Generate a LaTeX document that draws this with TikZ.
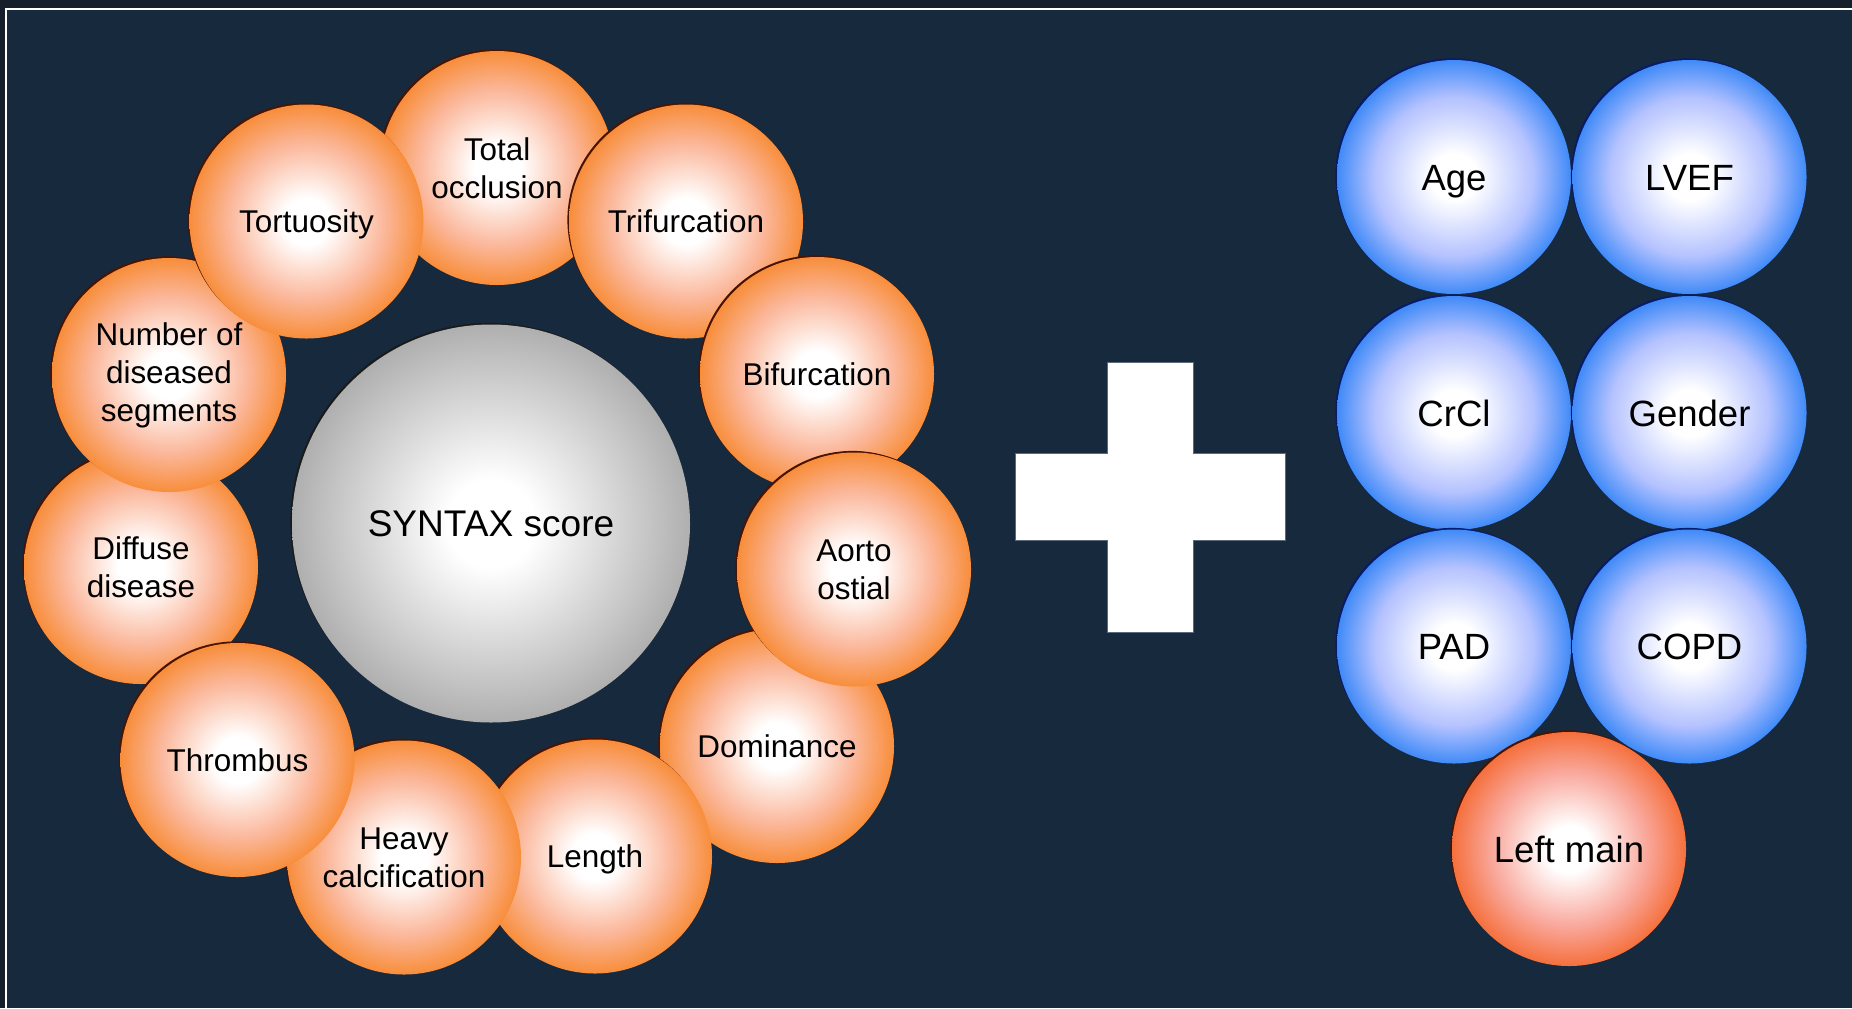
\documentclass[tikz,border=0pt]{standalone}
\usepackage{fontspec}
\setmainfont{Liberation Sans}
\usetikzlibrary{shadows}
\definecolor{outerbg}{HTML}{151F2C}
\definecolor{innerbg}{HTML}{17293D}
\definecolor{orangeedge}{HTML}{F7862A}
\definecolor{orangemid}{HTML}{FBB89C}
\definecolor{redorange}{HTML}{F4662C}
\definecolor{redmid}{HTML}{F9A89C}
\definecolor{blueedge}{HTML}{2B80F6}
\definecolor{bluemid}{HTML}{B4C2FF}
\definecolor{grayedge}{HTML}{898989}
\definecolor{graymid}{HTML}{C4C4C4}
\definecolor{oshadow}{HTML}{4A1200}
\definecolor{bshadow}{HTML}{061A6E}
\definecolor{gshadow}{HTML}{1A1A1A}
\definecolor{plusline}{HTML}{5A6A7A}
% the circle edge lies at about 35bp of the shading
\pgfdeclareradialshading{orangeball}{\pgfpoint{0bp}{0bp}}{color(0bp)=(white); color(5bp)=(white); color(16.5bp)=(orangemid); color(26.5bp)=(orangeedge); color(50bp)=(orangeedge)}
\pgfdeclareradialshading{redball}{\pgfpoint{0bp}{0bp}}{color(0bp)=(white); color(5bp)=(white); color(16.5bp)=(redmid); color(26.5bp)=(redorange); color(50bp)=(redorange)}
\pgfdeclareradialshading{blueball}{\pgfpoint{0bp}{0bp}}{color(0bp)=(white); color(5bp)=(white); color(17bp)=(bluemid); color(26.5bp)=(blueedge); color(50bp)=(blueedge)}
\pgfdeclareradialshading{grayball}{\pgfpoint{0bp}{0bp}}{color(0bp)=(white); color(5.5bp)=(white); color(20bp)=(graymid); color(34bp)=(grayedge); color(50bp)=(grayedge)}
\tikzset{
  ball/.style={circle, inner sep=0pt, minimum size=175.5pt, align=center, text=black},
  oball/.style={ball, shading=orangeball,
     general shadow={fill=oshadow, shadow xshift=-1.2pt, shadow yshift=1.2pt},
     font=\fontsize{23.6}{28.5}\selectfont},
  oline/.style={oball, text height=16.9pt, text depth=0pt},
  rball/.style={ball, shading=redball, text height=19.6pt, text depth=0pt,
     general shadow={fill=oshadow, shadow xshift=-1.2pt, shadow yshift=1.2pt},
     font=\fontsize{27.4}{32}\selectfont},
  bball/.style={ball, shading=blueball, text height=19.6pt, text depth=0pt,
     general shadow={fill=bshadow, shadow xshift=-1.2pt, shadow yshift=1.2pt},
     font=\fontsize{27.4}{32}\selectfont},
  gball/.style={ball, minimum size=298.5pt, shading=grayball, text height=19.9pt, text depth=0pt,
     general shadow={fill=gshadow, shadow xshift=-1.2pt, shadow yshift=1.2pt},
     font=\fontsize{27.8}{32}\selectfont},
}
\begin{document}
\begin{tikzpicture}[x=0.75pt, y=-0.75pt]
\useasboundingbox (0,0) rectangle (1852,1008);
% background and frame
\fill[outerbg] (0,0) rectangle (1852,1008);
\fill[innerbg] (6,9) rectangle (1852,1008);
\draw[white, line width=1.5pt] (6,1008) -- (6,9) -- (1852,9);
% orange ring (drawn in stacking order)
\node[oball] (total) at (497,168) {Total\\occlusion};
\node[oball] (diffuse) at (141,567) {Diffuse\\disease};
\node[oline] (dominance) at (777,746) {Dominance};
\node[oline] (trifurcation) at (686,221.5) {Trifurcation};
\node[oline] (bifurcation) at (817,374) {Bifurcation};
\node[oball] (aorto) at (854,569.5) {Aorto\\ostial};
\node[oline] (length) at (595,856.5) {Length};
\node[oball] (heavy) at (404,857.5) {Heavy\\calcification};
\node[oline] (thrombus) at (237.5,760) {Thrombus};
\node[oball] (number) at (169,375) {Number of\\diseased\\segments};
\node[oline] (tortuosity) at (306.5,221.5) {Tortuosity};
% central score
\node[gball] (syntax) at (491,523.5) {SYNTAX score};
% plus sign
\draw[fill=white, draw=plusline, line width=0.4pt]
  (1107,362) -- (1193,362) -- (1193,453) -- (1285,453) -- (1285,540)
  -- (1193,540) -- (1193,632) -- (1107,632) -- (1107,540) -- (1015,540)
  -- (1015,453) -- (1107,453) -- cycle;
% clinical variables
\node[bball] (age) at (1454,177) {Age};
\node[bball] (lvef) at (1689.5,177) {LVEF};
\node[bball] (crcl) at (1454,413) {CrCl};
\node[bball] (gender) at (1689.5,413) {Gender};
\node[bball] (pad) at (1454,646.5) {PAD};
\node[bball] (copd) at (1689.5,646.5) {COPD};
\node[rball] (leftmain) at (1569,849) {Left main};
\end{tikzpicture}
\end{document}
